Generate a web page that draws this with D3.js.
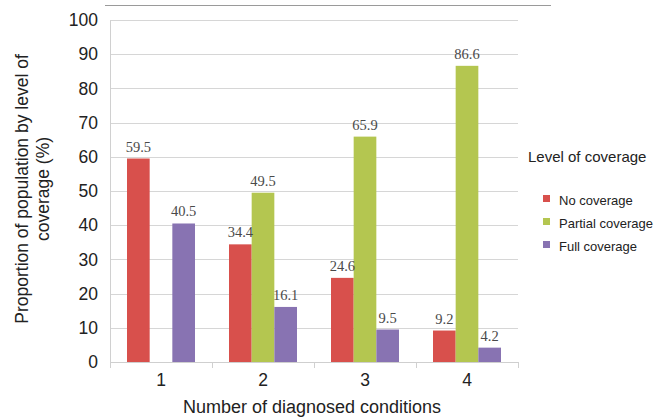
<!DOCTYPE html>
<html>
<head>
<meta charset="utf-8">
<script src="https://cdn.jsdelivr.net/npm/d3@7/dist/d3.min.js"></script>
<style>
  html, body { margin: 0; padding: 0; background: #fff; }
  svg { display: block; }
</style>
</head>
<body>
<svg id="chart" width="672" height="418"></svg>
<script>
// Number of diagnosed conditions
const categories = ["1", "2", "3", "4"];
const seriesNames = ["No coverage", "Partial coverage", "Full coverage"];
const noCoverage = [59.5, 34.4, 24.6, 9.2];
const partialCoverage = [null, 49.5, 65.9, 86.6];
const fullCoverage = [40.5, 16.1, 9.5, 4.2];
const seriesColors = ["#d8504c", "#b4c650", "#8873b2"];
const yTicks = [0, 10, 20, 30, 40, 50, 60, 70, 80, 90, 100];

const seriesValues = [noCoverage, partialCoverage, fullCoverage];

const svg = d3.select("#chart");
const margin = { left: 110, right: 154, top: 20, bottom: 56 };
const W = 672, H = 418;
const plotW = W - margin.left - margin.right;
const plotH = H - margin.top - margin.bottom;

const g = svg.append("g").attr("transform", `translate(${margin.left},${margin.top})`);

const x0 = d3.scaleBand().domain(categories).range([0, plotW]).paddingInner(1 / 3).paddingOuter(1 / 6);
const x1 = d3.scaleBand().domain(seriesNames).range([0, x0.bandwidth()]).padding(0);
const y = d3.scaleLinear().domain([0, 100]).range([plotH, 0]);

// top frame line
svg.append("line")
  .attr("x1", 105).attr("x2", 551).attr("y1", 5.5).attr("y2", 5.5)
  .attr("stroke", "#9a9a9a").attr("stroke-width", 1.2);

// horizontal gridlines
g.append("g").selectAll("line").data(yTicks.filter(d => d > 0)).join("line")
  .attr("x1", 0).attr("x2", plotW)
  .attr("y1", d => Math.round(y(d)) + 0.5).attr("y2", d => Math.round(y(d)) + 0.5)
  .attr("stroke", "#d6d6d6").attr("stroke-width", 1);

// y axis
const yAxis = g.append("g").call(d3.axisLeft(y).tickValues(yTicks).tickSize(0).tickPadding(12));
yAxis.select(".domain").attr("stroke", "#d0d0d0");
yAxis.selectAll("text")
  .attr("font-family", "Liberation Sans, Arial, sans-serif")
  .attr("font-size", 17.5).attr("fill", "#222");

// bars
const groups = g.append("g").selectAll("g").data(categories).join("g")
  .attr("transform", d => `translate(${x0(d)},0)`);

const cells = (c, i) => seriesNames.map((s, k) => ({ s, k, v: seriesValues[k][i] })).filter(d => d.v != null);

groups.selectAll("rect")
  .data(cells)
  .join("rect")
  .attr("x", d => x1(d.s))
  .attr("width", x1.bandwidth())
  .attr("y", d => y(d.v))
  .attr("height", d => y(0) - y(d.v))
  .attr("fill", d => seriesColors[d.k]);

// value labels
groups.selectAll("text")
  .data(cells)
  .join("text")
  .attr("x", d => x1(d.s) + x1.bandwidth() / 2)
  .attr("y", d => y(d.v) - 7)
  .attr("text-anchor", "middle")
  .attr("font-family", "Liberation Serif, Times New Roman, serif")
  .attr("font-size", 14.5)
  .attr("fill", "#4a4a4a")
  .text(d => d.v.toFixed(1));

// x axis
const xAxis = g.append("g").attr("transform", `translate(0,${plotH})`)
  .call(d3.axisBottom(x0).tickSize(0).tickPadding(12));
xAxis.select(".domain").attr("stroke", "#cfcfcf");
xAxis.selectAll("text")
  .attr("font-family", "Liberation Sans, Arial, sans-serif")
  .attr("font-size", 17.5).attr("fill", "#222");
// category boundary ticks
xAxis.append("g").selectAll("line")
  .data(d3.range(categories.length + 1))
  .join("line")
  .attr("x1", i => i * x0.step() + 0.5).attr("x2", i => i * x0.step() + 0.5)
  .attr("y1", 0).attr("y2", 6)
  .attr("stroke", "#d0d0d0");

// axis titles
svg.append("text")
  .attr("x", 312).attr("y", 413)
  .attr("text-anchor", "middle")
  .attr("font-family", "Liberation Sans, Arial, sans-serif")
  .attr("font-size", 18).attr("fill", "#222")
  .text("Number of diagnosed conditions");

const yTitle = svg.append("text")
  .attr("transform", "translate(0,189) rotate(-90)")
  .attr("text-anchor", "middle")
  .attr("font-family", "Liberation Sans, Arial, sans-serif")
  .attr("font-size", 17.5).attr("fill", "#222");
yTitle.append("tspan").attr("x", 0).attr("y", 28).text("Proportion of population by level of");
yTitle.append("tspan").attr("x", 0).attr("y", 49).text("coverage (%)");

// legend
const legend = svg.append("g");
legend.append("text")
  .attr("x", 528).attr("y", 162)
  .attr("font-family", "Liberation Sans, Arial, sans-serif")
  .attr("font-size", 15).attr("fill", "#222")
  .text("Level of coverage");
const items = legend.selectAll("g.item").data(seriesNames).join("g")
  .attr("class", "item")
  .attr("transform", (d, i) => `translate(543,${204.5 + i * 23})`);
items.append("rect")
  .attr("x", 0).attr("y", -9.5).attr("width", 7).attr("height", 7)
  .attr("fill", (d, i) => seriesColors[i]);
items.append("text")
  .attr("x", 16).attr("y", 0)
  .attr("font-family", "Liberation Sans, Arial, sans-serif")
  .attr("font-size", 13).attr("fill", "#222")
  .text(d => d);
</script>
</body>
</html>
